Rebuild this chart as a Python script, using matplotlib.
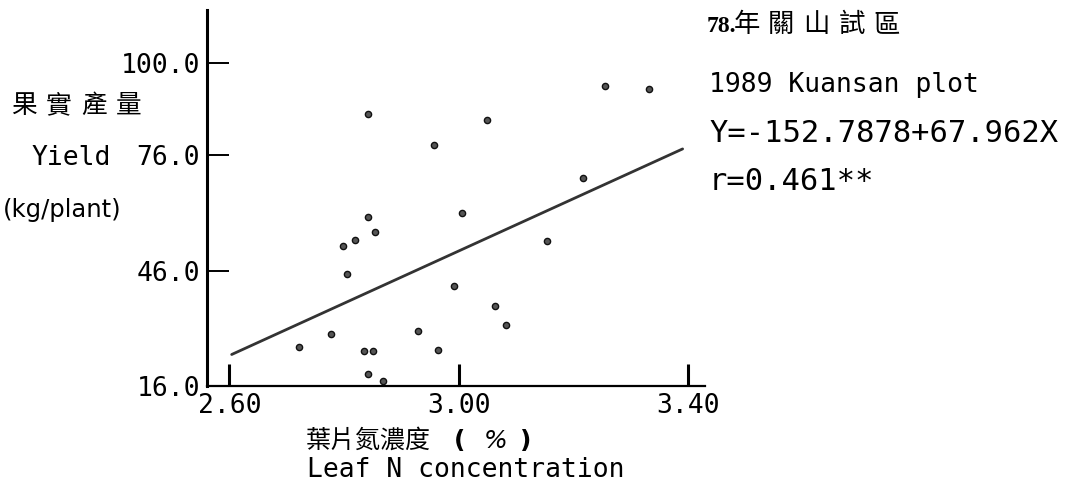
import matplotlib
matplotlib.use("Agg")
import matplotlib.pyplot as plt
import numpy as np

# leaf N (%) vs yield (kg/plant)
leaf_n = [2.842, 3.049, 3.255, 3.331, 2.957, 3.217, 3.006, 2.842, 2.854, 2.819,
          2.798, 3.154, 2.805, 2.991, 3.063, 3.082, 2.929, 2.777, 2.721, 2.834,
          2.851, 2.963, 2.842, 2.867]
yield_kg = [86.8, 85.1, 94.0, 93.3, 78.5, 70.1, 60.9, 59.8, 56.1, 53.9,
            52.5, 53.7, 45.1, 42.0, 36.8, 31.8, 30.3, 29.4, 26.2, 25.2,
            25.2, 25.4, 19.0, 17.3]

intercept = -152.7878
slope = 67.962
fit_x = [2.604, 3.39]

x_ticks = [2.60, 3.00, 3.40]
y_ticks = [16.0, 46.0, 76.0, 100.0]

W, H = 1081, 501
fig = plt.figure(figsize=(W / 100, H / 100), dpi=100)
fig.patch.set_facecolor("white")

def px(x, y):
    return x / W, 1 - y / H

ax = fig.add_axes([207 / W, (H - 386) / H, (705 - 207) / W, (386 - 10) / H])
ax.set_xlim(2.561, 3.429)
ax.set_ylim(16, 113.7)

ax.scatter(leaf_n, yield_kg, s=20, c="#555555", edgecolors="#111111",
           linewidths=1.0, zorder=3, clip_on=False)

fx = np.array(fit_x)
ax.plot(fx, intercept + slope * fx, color="#333333", lw=2.0,
        solid_capstyle="round", zorder=2)

for side in ["top", "right"]:
    ax.spines[side].set_visible(False)
ax.spines["left"].set_linewidth(2.2)
ax.spines["bottom"].set_linewidth(1.6)

mono = "DejaVu Sans Mono"
ax.set_xticks(x_ticks)
ax.set_xticklabels(["%.2f" % v for v in x_ticks], fontfamily=mono, fontsize=19)
ax.set_yticks(y_ticks)
ax.set_yticklabels(["%.1f" % v for v in y_ticks], fontfamily=mono, fontsize=19)
ax.tick_params(axis="x", direction="in", length=16, width=2.2, pad=5)
ax.tick_params(axis="y", direction="in", length=16, width=1.4, pad=5)

cjk = ["Noto Sans CJK TC", "DejaVu Sans"]

# y axis title
for ch, cx in zip("果實產量", [24, 59, 94, 129]):
    fig.text(*px(cx, 106), ch, family=cjk, fontsize=18.5, ha="center", va="center")
fig.text(*px(32, 158), "Yield", family=mono, fontsize=19, ha="left", va="center")
fig.text(*px(3, 210), "(kg/plant)", family="DejaVu Sans", fontsize=17.5,
         ha="left", va="center")

# x axis title
fig.text(*px(306, 441), "葉片氮濃度", family=cjk, fontsize=18, ha="left", va="center")
fig.text(*px(460, 441), "(", family="DejaVu Sans", fontsize=18, fontweight="bold",
         ha="center", va="center")
fig.text(*px(496, 441), "%", family="DejaVu Sans", fontsize=18, style="italic",
         ha="center", va="center")
fig.text(*px(526, 441), ")", family="DejaVu Sans", fontsize=18, fontweight="bold",
         ha="center", va="center")
fig.text(*px(307, 470), "Leaf N concentration", family=mono, fontsize=19,
         ha="left", va="center")

# annotation block on the right
fig.text(*px(707, 27), "78.", family="Liberation Serif", fontsize=17,
         fontweight="bold", ha="left", va="center")
for ch, cx in zip("年關山試區", [747, 781, 816, 852, 887]):
    fig.text(*px(cx, 25), ch, family=cjk, fontsize=19, ha="center", va="center")
fig.text(*px(709, 85), "1989 Kuansan plot", family=mono, fontsize=19,
         ha="left", va="center")
fig.text(*px(709, 133), "Y=-152.7878+67.962X", family=mono, fontsize=22,
         ha="left", va="center")
fig.text(*px(709, 181), "r=0.461**", family=mono, fontsize=22,
         ha="left", va="center")

fig.savefig("out.png", dpi=100, facecolor="white")
